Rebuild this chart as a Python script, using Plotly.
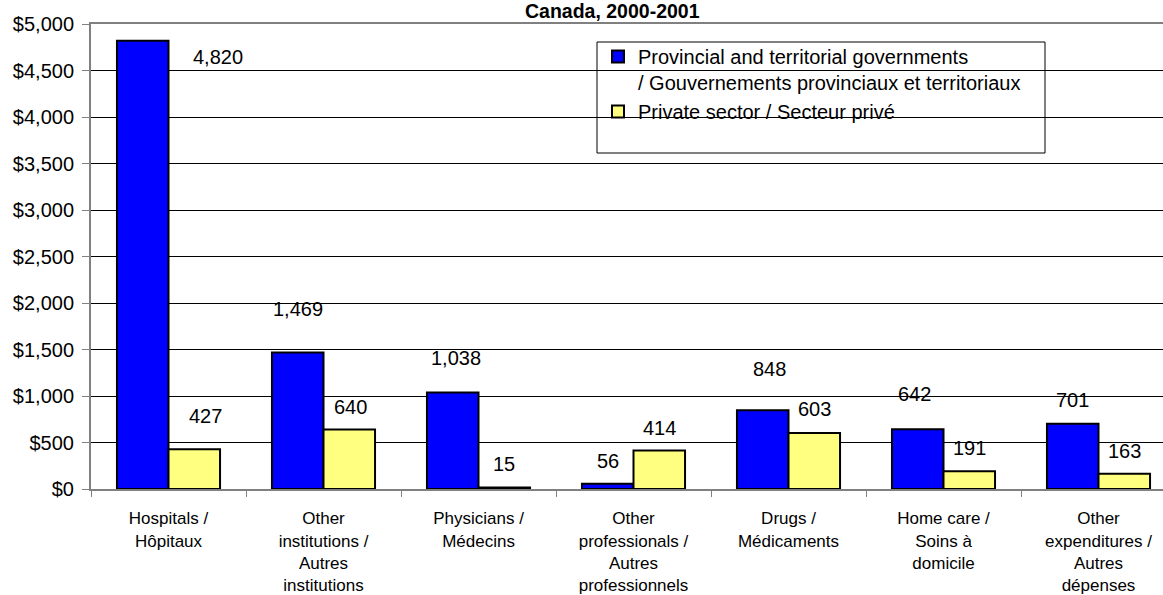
import plotly.graph_objects as go

categories = [
    "Hospitals /<br>Hôpitaux",
    "Other<br>institutions /<br>Autres<br>institutions",
    "Physicians /<br>Médecins",
    "Other<br>professionals /<br>Autres<br>professionnels",
    "Drugs /<br>Médicaments",
    "Home care /<br>Soins à<br>domicile",
    "Other<br>expenditures /<br>Autres<br>dépenses",
]
provincial = [4820, 1469, 1038, 56, 848, 642, 701]
private = [427, 640, 15, 414, 603, 191, 163]
series_names = [
    "Provincial and territorial governments<br>/ Gouvernements provinciaux et territoriaux",
    "Private sector / Secteur privé",
]
tick_vals = [0, 500, 1000, 1500, 2000, 2500, 3000, 3500, 4000, 4500, 5000]
tick_text = ["$0", "$500", "$1,000", "$1,500", "$2,000", "$2,500", "$3,000",
             "$3,500", "$4,000", "$4,500", "$5,000"]
title_text = "<b>Canada, 2000-2001</b>"

# label placement tweaks (pixels) mimicking the original chart
blue_shift = [(75, -16), (0, 43), (3, 34), (0, 23), (7, 41), (-3, 35), (0, 24)]
yellow_shift = [(11, 33), (1, 22), (0, 24), (0, 23), (0, 24), (0, 23), (0, 23)]

FONT = "Liberation Sans, Arial, sans-serif"
BARGAP = 0.335

fig = go.Figure()
fig.add_trace(go.Bar(x=categories, y=provincial, name=series_names[0],
                     marker=dict(color="#0000FF", line=dict(color="black", width=2))))
fig.add_trace(go.Bar(x=categories, y=private, name=series_names[1],
                     marker=dict(color="#FFFF80", line=dict(color="black", width=2))))

bw = (1 - BARGAP) / 2
for i, (v, (dx, dy)) in enumerate(zip(provincial, blue_shift)):
    fig.add_annotation(x=i - bw / 2, y=v, xref="x", yref="y", text=f"{v:,}",
                       showarrow=False, xshift=dx, yshift=dy, yanchor="middle",
                       font=dict(family=FONT, size=20, color="black"))
for i, (v, (dx, dy)) in enumerate(zip(private, yellow_shift)):
    fig.add_annotation(x=i + bw / 2, y=v, xref="x", yref="y", text=f"{v:,}",
                       showarrow=False, xshift=dx, yshift=dy, yanchor="middle",
                       font=dict(family=FONT, size=20, color="black"))

fig.add_annotation(x=(612 - 91) / 1072, y=1 + (24 - 11) / 465, xref="paper", yref="paper",
                   text=title_text, showarrow=False, yanchor="middle",
                   font=dict(family=FONT, size=19.5, color="black"))

# legend frame
fig.add_shape(type="rect", xref="paper", yref="paper",
              x0=(597 - 91) / 1072, x1=(1045 - 91) / 1072,
              y0=(489 - 153) / 465, y1=(489 - 42) / 465,
              line=dict(color="black", width=1), fillcolor="white", layer="below")

fig.update_layout(
    width=1163, height=595,
    margin=dict(l=91, r=0, t=24, b=106),
    paper_bgcolor="white", plot_bgcolor="rgba(0,0,0,0)",
    barmode="group", bargap=BARGAP, bargroupgap=0,
    font=dict(family=FONT, color="black"),
    showlegend=True,
    legend=dict(x=(598 - 91) / 1072, y=(489 - 37) / 465, xanchor="left", yanchor="top",
                bgcolor="rgba(0,0,0,0)", borderwidth=0, valign="top",
                itemwidth=30,
                font=dict(family=FONT, size=20, color="black"), tracegroupgap=0),
    xaxis=dict(type="category", range=[-0.5, 6.5 - 13 / 155], tickson="boundaries",
               ticks="outside", ticklen=6, tickcolor="#808080", tickwidth=1,
               showline=True, linecolor="#808080", linewidth=2, mirror=True,
               showgrid=False, tickfont=dict(family=FONT, size=17, color="black"),
               tickangle=0, ticklabelstandoff=13, automargin=False),
    yaxis=dict(range=[0, 5000], tickvals=tick_vals, ticktext=tick_text,
               ticks="outside", ticklen=7, tickcolor="#808080",
               showline=True, linecolor="#808080", linewidth=2,
               showgrid=True, gridcolor="black", gridwidth=1, zeroline=False,
               ticklabelstandoff=4, automargin=False,
               tickfont=dict(family=FONT, size=20, color="black")),
)

fig.write_html("out.html", config={"displayModeBar": False},
               post_script="document.body.style.margin='0';")
